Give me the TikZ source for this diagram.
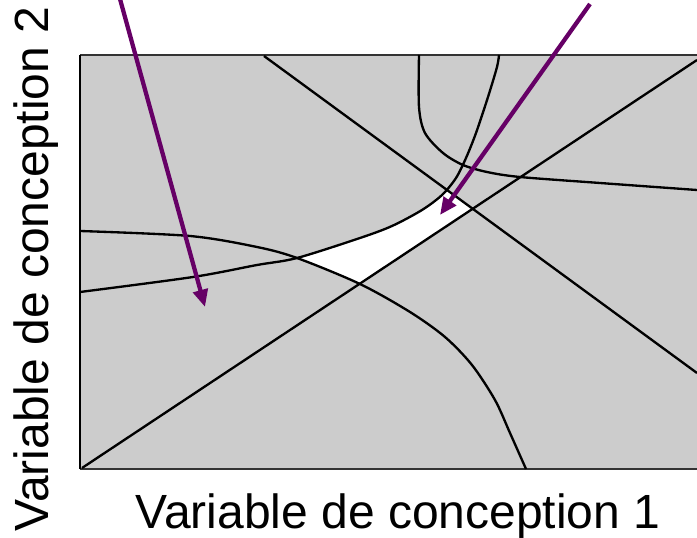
\documentclass[tikz,border=0pt]{standalone}
\usepackage{fontspec}
\setmainfont{Liberation Sans}
\usetikzlibrary{arrows.meta}
\definecolor{fieldgray}{HTML}{CCCCCC}
\definecolor{framegray}{HTML}{333333}
\definecolor{arrowpurple}{HTML}{660066}
\begin{document}
\begin{tikzpicture}[x=0.75pt,y=-0.75pt,
  curve/.style={line width=1.75pt, black, line join=round},
  frameline/.style={line width=1.7pt, framegray},
  arrowline/.style={arrowpurple, line width=3.2pt, -{Triangle[length=13pt,width=11pt]}},
  axislabel/.style={font=\fontsize{36}{43}\selectfont, inner sep=0pt}]
\useasboundingbox (0,0) rectangle (697,538);
% design space
\fill[fieldgray] (80,55) rectangle (697,469);
% feasible (white) region
\begin{scope}
  \clip plot[smooth] coordinates {(80,292) (193,277) (257,265) (297,258) (360,238) (392,226) (422,210) (442,195) (456,178) (466,158) (476,133) (488,97) (497,67) (499,55)}
        -- (800,55) -- (800,600) -- (0,600) -- (0,292) -- cycle;
  \clip plot[smooth] coordinates {(80,231) (190,236) (257,247) (297,258) (360,284) (410,312) (445,337) (472,365) (495,400) (510,433) (526,469)}
        -- (800,469) -- (800,-10) -- (0,-10) -- (0,231) -- cycle;
  \clip (0,522.4) -- (800,-8.3) -- (0,-8.3) -- cycle;
  \clip (0,-137.3) -- (800,448.4) -- (800,600) -- (0,600) -- cycle;
  \fill[white] (80,55) rectangle (697,469);
\end{scope}
% frame
\coordinate (tl) at (80,55);
\coordinate (tr) at (697,55);
\coordinate (bl) at (80,469);
\coordinate (br) at (697,469);
\draw[frameline] (tl) -- (tr);
\draw[frameline] (bl) -- (br);
\draw[line width=1.9pt, black] (tl) -- (bl);
% straight constraints
\coordinate (l1a) at (82,468);
\coordinate (l1b) at (697,60);
\coordinate (l2a) at (264,56);
\coordinate (l2b) at (697,373);
\draw[curve] (l1a) -- (l1b);
\draw[curve] (l2a) -- (l2b);
% curved constraints
\draw[curve] plot[smooth] coordinates {(80,231) (190,236) (257,247) (297,258) (360,284) (410,312) (445,337) (472,365) (495,400) (510,433) (526,469)};
\draw[curve] plot[smooth] coordinates {(80,292) (193,277) (257,265) (297,258) (360,238) (392,226) (422,210) (442,195) (456,178) (466,158) (476,133) (488,97) (497,67) (499,55)};
\draw[curve] plot[smooth] coordinates {(419,55) (419,107) (425,133) (443,153) (463,165) (487,172) (520,177) (600,183) (697,190)};
% arrows
\coordinate (a1s) at (120,-1);
\coordinate (a1e) at (205,307);
\coordinate (a2s) at (590,4);
\coordinate (a2e) at (440,215);
\draw[arrowline] (a1s) -- (a1e);
\draw[arrowline] (a2s) -- (a2e);
% axis labels
\node[axislabel, anchor=base] (xlab) at (398,528) {Variable de conception 1};
\node[axislabel, anchor=base, rotate=90] (ylab) at (48,269) {Variable de conception 2};
\end{tikzpicture}
\end{document}
